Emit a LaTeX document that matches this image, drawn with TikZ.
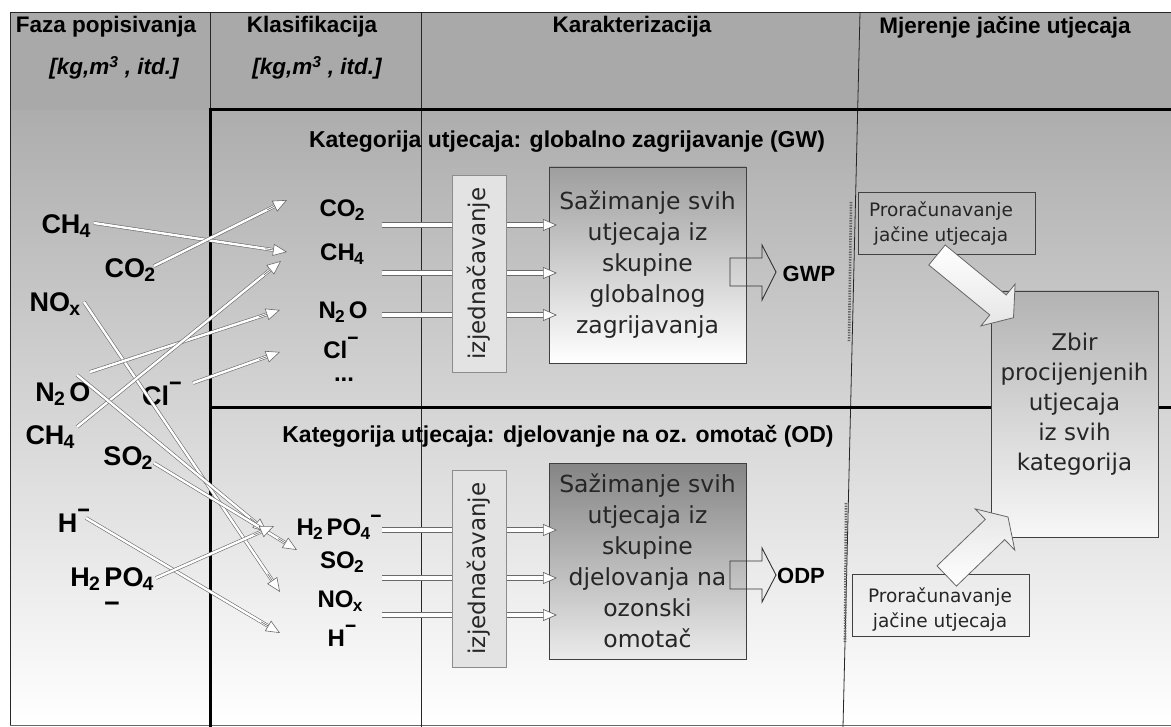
\documentclass[tikz,border=0pt]{standalone}
\usepackage{fontspec}
\setmainfont{Liberation Sans}
\newfontfamily\dv{DejaVu Sans}
\usetikzlibrary{arrows.meta,calc}
\definecolor{hdrgray}{HTML}{A9A9A9}
\definecolor{bodytop}{HTML}{ADADAD}
\definecolor{lk}{HTML}{6A6A6A}
\newcommand\chsb[1]{\kern-0.03em\raisebox{-0.15em}{\scalebox{0.72}{#1}}}
\newcommand\chmi{\raisebox{0.52em}{\scalebox{0.8}[0.9]{−}}}
\newcommand\dar[3][]{\draw[shaft,#1] (#2) -- (#3); \draw[tipst,#1] ($(#3)!22pt!(#2)$) -- (#3);}
\tikzset{
 chl/.style={font=\fontsize{27}{27}\selectfont\bfseries, inner sep=0pt},
 chm/.style={font=\fontsize{24}{24}\selectfont\bfseries, inner sep=0pt},
 hd/.style={font=\fontsize{22.5}{22.5}\selectfont\bfseries, inner sep=0pt},
 hdi/.style={font=\fontsize{22.5}{22.5}\selectfont\bfseries\itshape, inner sep=0pt},
 ttl/.style={font=\fontsize{23}{23}\selectfont\bfseries, inner sep=0pt},
 sumbox/.style={draw=black!75, line width=0.9pt, minimum width=197pt, minimum height=196pt, inner sep=0pt,
   font=\dv\fontsize{23.5}{31}\selectfont, align=center, text=black!85},
 eqbox/.style={draw=black!45, line width=0.8pt, fill=black!11, minimum width=54pt, minimum height=197pt, inner sep=0pt},
 eqtxt/.style={font=\dv\fontsize{23}{23}\selectfont, rotate=90, inner sep=0pt, text=black!85},
 calcbox/.style={draw=black!75, line width=0.8pt, minimum width=177pt, minimum height=62pt, inner sep=0pt},
 calctxt/.style={font=\dv\fontsize{18.5}{25}\selectfont, align=center, inner sep=0pt, text=black!85},
 shaft/.style={draw=lk, line width=0.6pt, double=white, double distance=2.4pt, shorten >=9pt},
 tipst/.style={draw=lk, line width=0.6pt, -{Triangle[length=14pt,width=12pt,fill=white]}},
 hsh/.style={double distance=4.6pt, line width=0.7pt},
 barrow/.style={draw=black!60, line width=0.8pt, top color=white, bottom color=black!10},
 blkarrow/.style={draw=black!80, line width=0.9pt},
 thk/.style={line width=3pt, draw=black},
 thn/.style={line width=0.8pt, draw=black!85},
 zbirbox/.style={draw=black!75, line width=0.9pt, minimum width=167pt, minimum height=246pt, inner sep=0pt,
   top color=black!30, bottom color=black!3},
 zbirtxt/.style={font=\dv\fontsize{23}{30}\selectfont, align=center, inner sep=0pt, text=black!85},
 pot/.style={font=\fontsize{22}{22}\selectfont\bfseries, inner sep=0pt},
 dots/.style={draw=black!60, line width=2.6pt, dash pattern=on 1.4pt off 1.2pt}
}
\begin{document}
\begin{tikzpicture}[x=1pt,y=-1pt]
\useasboundingbox (0,0) rectangle (1171,727);
\fill[white] (0,0) rectangle (1171,727);
\shade[top color=bodytop, bottom color=white] (10,110) rectangle (1175,725);
\fill[hdrgray] (10,12) rectangle (1175,110);

% header texts
\node[hd] (h1) at (106,27) {Faza popisivanja};
\node[hdi] (h1u) at (114,68) {[kg,m\textsuperscript{3} , itd.]};
\node[hd] (h2) at (312,27) {Klasifikacija};
\node[hdi] (h2u) at (317,68) {[kg,m\textsuperscript{3} , itd.]};
\node[hd] (h3) at (632,27) {Karakterizacija};
\node[hd] (h4) at (1005,27) {Mjerenje jačine utjecaja};

% frame and grid
\draw[thn] (10,725) -- (10,12) -- (1175,12);
\draw[thn, draw=black!60] (10,725) -- (1175,725);
\draw[thn] (210,12) -- (210,110);
\draw[thn] (421,12) -- (421,727);
\draw[thn] (860,12) -- (843,727);
\draw[thk] (210,110) -- (210,727);
\draw[thk] (208.5,110) -- (1175,110);
\draw[thk] (210,408) -- (1175,408);
\draw[dots] (851,202) -- (849,342);
\draw[dots] (846,503) -- (845,642);

% category titles
\node[ttl] (tgw) at (567,142) {Kategorija utjecaja: globalno zagrijavanje (GW)};
\node[ttl] (tod) at (558,436) {Kategorija utjecaja: djelovanje na oz. omotač (OD)};

% left column labels
\node[chl] (lch4a) at (66,226) {CH\chsb{4}};
\node[chl] (lco2) at (130,270) {CO\chsb{2}};
\node[chl] (lnox) at (55,304) {NO\chsb{x}};
\node[chl] (ln2o) at (63,394) {N\chsb{2}\,O};
\node[chl] (lcl) at (162,394) {Cl\chmi};
\node[chl] (lch4b) at (50,437) {CH\chsb{4}};
\node[chl] (lso2) at (128,458) {SO\chsb{2}};
\node[chl] (lh) at (74,521) {H\chmi};
\node[chl] (lh2po4) at (112,579) {H\chsb{2}\,PO\chsb{4}};
\node[chl] (lminus) at (112,607) {−};

% middle labels
\node[chm] (mco2) at (342,210) {CO\chsb{2}};
\node[chm] (mch4) at (342,254) {CH\chsb{4}};
\node[chm] (mn2o) at (343,312) {N\chsb{2}\,O};
\node[chm] (mcl) at (341,348) {Cl\chmi};
\node[chm] (mdots) at (344,380) {...};
\node[chm] (mh2po4) at (339,527) {H\chsb{2}\,PO\chsb{4}\chmi};
\node[chm] (mso2) at (342,562) {SO\chsb{2}};
\node[chm] (mnox) at (340,601) {NO\chsb{x}};
\node[chm] (mh) at (342,636) {H\chmi};

% connector coordinates (left -> middle)
\coordinate (s1) at (94,223);  \coordinate (e1) at (287,252);
\coordinate (s2) at (154,266); \coordinate (e2) at (287,200);
\coordinate (s3) at (84,302);  \coordinate (e3) at (280,592);
\coordinate (s4) at (90,372);  \coordinate (e4) at (280,310);
\coordinate (s5) at (193,383); \coordinate (e5) at (280,352);
\coordinate (s6) at (77,427);  \coordinate (e6) at (281,261);
\coordinate (s7) at (77,375);  \coordinate (e7) at (267,532);
\coordinate (s8) at (154,463); \coordinate (e8) at (297,550);
\coordinate (s9) at (86,518);  \coordinate (e9) at (280,633);
\coordinate (s10) at (156,578); \coordinate (e10) at (274,526);
\foreach \i in {1,...,10}{\dar{s\i}{e\i}}

% summation boxes
\node[sumbox, top color=black!38, bottom color=white] (sgw) at (647.5,265)
  {Sažimanje svih\\utjecaja iz\\skupine\\globalnog\\zagrijavanja};
\node[sumbox, top color=black!48, bottom color=black!8] (sod) at (647.5,561)
  {Sažimanje svih\\utjecaja iz\\skupine\\djelovanja na\\ozonski\\omotač};

% horizontal arrows
\foreach \i/\y in {1/225,2/273,3/315,4/530,5/578,6/615}{
  \coordinate (hs\i) at (382,\y);
  \coordinate (he\i) at (557,\y);
}
\foreach \i in {1,...,6}{\dar[hsh, tipst/.append style={-{Triangle[length=15pt,width=14pt,fill=white]}}]{hs\i}{he\i}}

% izjednacavanje boxes
\node[eqbox] (qgw) at (479,273.5) {};
\node[eqtxt] (qgwt) at (qgw.center) {izjednačavanje};
\node[eqbox] (qod) at (479,568.5) {};
\node[eqtxt] (qodt) at (qod.center) {izjednačavanje};

% block arrows GWP / ODP
\draw[blkarrow] (730,258) -- (762,258) -- (762,245) -- (776,272) -- (762,300) -- (762,286) -- (730,286) -- cycle;
\node[pot] (gwp) at (809,274) {GWP};
\draw[blkarrow] (730,561) -- (762,561) -- (762,548) -- (776,575) -- (762,602) -- (762,589) -- (730,589) -- cycle;
\node[pot] (odp) at (801,576) {ODP};

% right column
\node[zbirbox] (zbir) at (1074.5,414) {};
\node[zbirtxt] (zbirt) at (1074.5,404) {Zbir\\procijenjenih\\utjecaja\\iz svih\\kategorija};
\node[calcbox] (ctop) at (946.5,223) {};
\node[calctxt] (ctopt) at (941,224) {Proračunavanje\\jačine utjecaja};
\node[calcbox] (cbot) at (940.5,605) {};
\node[calctxt] (cbott) at (940,610) {Proračunavanje\\jačine utjecaja};

% big block arrows
\draw[barrow] (945.2,245.0) -- (1006.2,295.0) -- (1015.1,284.1) -- (1013.5,317.7) -- (980.9,325.9) -- (989.8,315.0) -- (928.8,265.0) -- cycle;
\draw[barrow, top color=black!10, bottom color=white] (937.0,565.9) -- (985.3,519.4) -- (975.2,508.9) -- (1008,517) -- (1014.8,550.1) -- (1004.7,539.6) -- (956.4,586.1) -- cycle;
\end{tikzpicture}
\end{document}
